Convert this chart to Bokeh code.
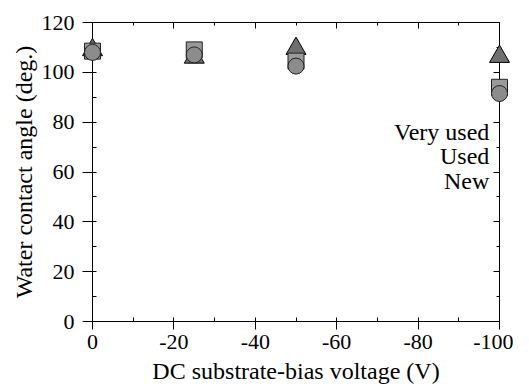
from bokeh.plotting import figure
from bokeh.models import Range1d, LinearAxis, SingleIntervalTicker, Label, CustomJSTickFormatter
from bokeh.embed import file_html
from bokeh.resources import INLINE

# Data
voltage = [0, -25, -50, -100]
very_used = [109, 106, 109.5, 106.3]
used = [108.5, 109, 104.5, 94]
new = [108, 107, 102.5, 91.5]
series_names = ["Very used", "Used", "New"]
legend_y = [76, 66.5, 56.5]

FONT = "Liberation Serif"

p = figure(frame_width=407, frame_height=299,
           min_border_left=92, min_border_right=14, min_border_top=22, min_border_bottom=62,
           x_range=Range1d(0, -100), y_range=Range1d(0, 120),
           output_backend="svg", toolbar_location=None)
p.grid.visible = False
p.outline_line_color = None

def style_axis(ax, labels=True, tick_out=9, tick_in=0, minor_in=4, minor_out=0):
    ax.ticker = SingleIntervalTicker(interval=20, num_minor_ticks=2)
    ax.formatter = CustomJSTickFormatter(code="return String(tick);")
    ax.axis_line_color = "black"
    ax.axis_line_width = 1
    ax.major_tick_line_color = "black"
    ax.minor_tick_line_color = "black"
    ax.major_tick_out = tick_out
    ax.major_tick_in = tick_in
    ax.minor_tick_in = minor_in
    ax.minor_tick_out = minor_out
    ax.major_label_text_font = FONT
    ax.major_label_text_font_size = "22px"
    ax.major_label_text_color = "black"
    ax.axis_label_text_font = FONT
    ax.axis_label_text_font_size = "24px"
    ax.axis_label_text_font_style = "normal"
    ax.axis_label_text_color = "black"
    if not labels:
        ax.major_label_text_font_size = "0px"
        ax.major_label_text_alpha = 0

style_axis(p.xaxis[0], tick_out=8)
p.xaxis[0].axis_label = "DC substrate-bias voltage (V)"
p.xaxis[0].major_label_standoff = 5
p.xaxis[0].axis_label_standoff = 6
style_axis(p.yaxis[0], tick_out=10)
p.yaxis[0].axis_label = "Water contact angle (deg.)"
p.yaxis[0].major_label_standoff = 8
p.yaxis[0].axis_label_standoff = 2

top = LinearAxis()
style_axis(top, labels=False, tick_out=0, tick_in=6, minor_in=3)
top.major_label_standoff = 0
p.add_layout(top, "above")
right = LinearAxis()
style_axis(right, labels=False, tick_out=0, tick_in=6, minor_in=3)
right.major_label_standoff = 0
p.add_layout(right, "right")

r1 = p.scatter(voltage, very_used, marker="triangle", size=20,
               fill_color="#6f6f6f", line_color="black", line_width=1)
r2 = p.scatter(voltage, used, marker="square", size=16,
               fill_color="#9a9a9a", line_color="#222222", line_width=1)
r3 = p.scatter(voltage, new, marker="circle", size=16,
               fill_color="#8c8c8c", line_color="#222222", line_width=1)
for r in (r1, r2, r3):
    r.level = "annotation"

for name, yy in zip(series_names, legend_y):
    p.add_layout(Label(x=-97.5, y=yy, text=name, text_align="right", text_baseline="middle",
                       text_font=FONT, text_font_size="24px", text_color="black"))

open("out.html", "w").write(file_html(p, INLINE))
